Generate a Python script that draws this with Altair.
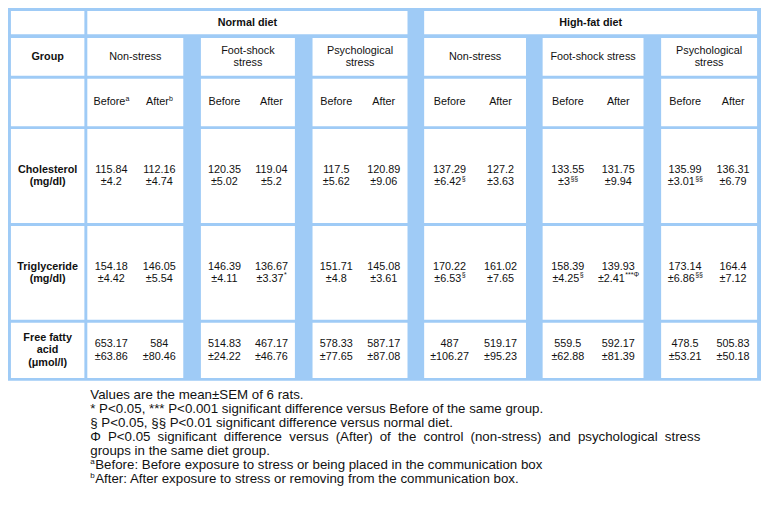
import altair as alt
import pandas as pd

# ---------------- data ----------------
diets = ["Normal diet", "High-fat diet"]
group_labels = ["Non-stress", "Foot-shock\nstress", "Psychological\nstress",
                "Non-stress", "Foot-shock stress", "Psychological\nstress"]
phases = ["Before", "After"]
phase_marks = [["a", "b"], ["", ""], ["", ""], ["", ""], ["", ""], ["", ""]]
measures = ["Cholesterol\n(mg/dl)", "Triglyceride\n(mg/dl)", "Free fatty\nacid\n(μmol/l)"]

chol_mean = [115.84, 112.16, 120.35, 119.04, 117.5, 120.89, 137.29, 127.2, 133.55, 131.75, 135.99, 136.31]
chol_sem = [4.2, 4.74, 5.02, 5.2, 5.62, 9.06, 6.42, 3.63, 3, 9.94, 3.01, 6.79]
chol_sig = ["", "", "", "", "", "", "§", "", "§§", "", "§§", ""]

tg_mean = [154.18, 146.05, 146.39, 136.67, 151.71, 145.08, 170.22, 161.02, 158.39, 139.93, 173.14, 164.4]
tg_sem = [4.42, 5.54, 4.11, 3.37, 4.8, 3.61, 6.53, 7.65, 4.25, 2.41, 6.86, 7.12]
tg_sig = ["", "", "", "*", "", "", "§", "", "§", "***Φ", "§§", ""]

ffa_mean = [653.17, 584, 514.83, 467.17, 578.33, 587.17, 487, 519.17, 559.5, 592.17, 478.5, 505.83]
ffa_sem = [63.86, 80.46, 24.22, 46.76, 77.65, 87.08, 106.27, 95.23, 62.88, 81.39, 53.21, 50.18]
ffa_sig = [""] * 12

footnotes = [
    ("", "Values are the mean±SEM of 6 rats."),
    ("", "* P<0.05, *** P<0.001 significant difference versus Before of the same group."),
    ("", "§ P<0.05, §§ P<0.01 significant difference versus normal diet."),
    ("J", "Φ P<0.05 significant difference versus (After) of the control (non-stress) and psychological stress"),
    ("", "groups in the same diet group."),
    ("a", "Before: Before exposure to stress or being placed in the communication box"),
    ("b", "After: After exposure to stress or removing from the communication box."),
]

# ---------------- layout (reference pixel grid) ----------------
W, H = 753, 490
SX, SY = W / 769, H / 506
BLUE = "#9fcbf6"
INK = "#111111"
FONT = "Liberation Sans"
FS = 10.8      # table font
FSUP = 7.0     # table superscript
FN = 13.3      # footnote font
FNSUP = 8.0

TABLE = (0, 0, 769, 385)
LABEL_COL = (3, 78)
DIET_COLS = [(81, 408), (425, 765)]
GROUP_COLS = [(81, 179), (197, 293), (311, 408), (425, 529), (546, 649), (667, 765)]
ROWS = [(3, 27), (31, 70), (73, 122), (125, 222), (225, 322), (325, 382)]
LINE = 13
FOOT_X0, FOOT_X1 = 84, 707
FOOT_Y0, FOOT_DY = 400, 14.4

# Arial / Liberation Sans advance widths (per 1000 em)
_W = {' ': 278, '!': 278, '"': 355, '#': 556, '$': 556, '%': 889, '&': 667, "'": 191,
      '(': 333, ')': 333, '*': 389, '+': 584, ',': 278, '-': 333, '.': 278, '/': 278,
      ':': 278, ';': 278, '<': 584, '=': 584, '>': 584, '?': 556, '@': 1015,
      'A': 667, 'B': 667, 'C': 722, 'D': 722, 'E': 667, 'F': 611, 'G': 778, 'H': 722,
      'I': 278, 'J': 500, 'K': 667, 'L': 556, 'M': 833, 'N': 722, 'O': 778, 'P': 667,
      'Q': 778, 'R': 722, 'S': 667, 'T': 611, 'U': 722, 'V': 667, 'W': 944, 'X': 667,
      'Y': 667, 'Z': 611, 'a': 556, 'b': 556, 'c': 500, 'd': 556, 'e': 556, 'f': 278,
      'g': 556, 'h': 556, 'i': 222, 'j': 222, 'k': 500, 'l': 222, 'm': 833, 'n': 556,
      'o': 556, 'p': 556, 'q': 556, 'r': 333, 's': 500, 't': 278, 'u': 556, 'v': 500,
      'w': 722, 'x': 500, 'y': 500, 'z': 500, '§': 556, '±': 584, 'Φ': 798, 'μ': 576}


def tw(s, size):
    return sum(_W.get(c, 556) for c in s) * size / 1000.0


def fmt(v):
    return f"{v:g}"


def px(x):
    return x * SX


def py(y):
    return y * SY


rects = []


def add_rect(x0, x1, y0, y1, fill):
    rects.append({"x0": px(x0), "x1": px(x1), "y0": py(y0), "y1": py(y1), "fill": fill})


add_rect(TABLE[0], TABLE[2], TABLE[1], TABLE[3], BLUE)
for (r0, r1) in ROWS:
    add_rect(LABEL_COL[0], LABEL_COL[1], r0, r1, "white")
for (c0, c1) in DIET_COLS:
    add_rect(c0, c1, ROWS[0][0], ROWS[0][1], "white")
for (r0, r1) in ROWS[1:]:
    for (c0, c1) in GROUP_COLS:
        add_rect(c0, c1, r0, r1, "white")

bold_c, norm_c, sup_l, foot_l = [], [], [], []


def multiline(target, text, cx, cy, size):
    lines = text.split("\n")
    n = len(lines)
    for i, ln in enumerate(lines):
        target.append({"x": px(cx), "y": py(cy + (i - (n - 1) / 2) * LINE), "t": ln, "s": size})


def with_sup(main, sup, cx, cy, size, supsize):
    wm, ws = tw(main, size), tw(sup, supsize)
    cxp = px(cx)
    norm_c.append({"x": cxp - ws / 2, "y": py(cy), "t": main, "s": size})
    if sup:
        sup_l.append({"x": cxp - (wm + ws) / 2 + wm + 0.3, "y": py(cy) - 3.8, "t": sup, "s": supsize})


def mid(a):
    return (a[0] + a[1]) / 2


# header row 1
for d, (c0, c1) in zip(diets, DIET_COLS):
    multiline(bold_c, d, (c0 + c1) / 2, mid(ROWS[0]), FS)
# row 2
multiline(bold_c, "Group", mid(LABEL_COL), mid(ROWS[1]), FS)
for g, (c0, c1) in zip(group_labels, GROUP_COLS):
    multiline(norm_c, g, (c0 + c1) / 2, mid(ROWS[1]), FS)
# row 3 before/after
for gi, (c0, c1) in enumerate(GROUP_COLS):
    for p in range(2):
        cx = c0 + (c1 - c0) * (0.25 + 0.5 * p)
        with_sup(phases[p], phase_marks[gi][p], cx, mid(ROWS[2]), FS, FSUP)

# value rows
series = [(chol_mean, chol_sem, chol_sig), (tg_mean, tg_sem, tg_sig), (ffa_mean, ffa_sem, ffa_sig)]
for mi, (means, sems, sigs) in enumerate(series):
    row = ROWS[3 + mi]
    cy = mid(row)
    multiline(bold_c, measures[mi], mid(LABEL_COL), cy, FS)
    for k in range(12):
        c0, c1 = GROUP_COLS[k // 2]
        cx = c0 + (c1 - c0) * (0.25 + 0.5 * (k % 2))
        norm_c.append({"x": px(cx), "y": py(cy - LINE / 2), "t": fmt(means[k]), "s": FS})
        with_sup("±" + fmt(sems[k]), sigs[k], cx, cy + LINE / 2, FS, FSUP)

# footnotes
for i, (kind, txt) in enumerate(footnotes):
    y = py(FOOT_Y0 + i * FOOT_DY)
    x0 = px(FOOT_X0)
    if kind == "J":
        words = txt.split(" ")
        widths = [tw(w, FN) for w in words]
        gap = (px(FOOT_X1) - x0 - sum(widths)) / (len(words) - 1)
        x = x0
        for w, ww in zip(words, widths):
            foot_l.append({"x": x, "y": y, "t": w, "s": FN})
            x += ww + gap
    elif kind in ("a", "b"):
        foot_l.append({"x": x0, "y": y - 3.2, "t": kind, "s": FNSUP})
        foot_l.append({"x": x0 + tw(kind, FNSUP) + 0.5, "y": y, "t": txt, "s": FN})
    else:
        foot_l.append({"x": x0, "y": y, "t": txt, "s": FN})

xs = alt.Scale(domain=[0, W], nice=False, zero=False)
ys = alt.Scale(domain=[0, H], reverse=True, nice=False, zero=False)

rect_layer = alt.Chart(pd.DataFrame(rects)).mark_rect(strokeWidth=0).encode(
    x=alt.X("x0:Q", scale=xs, axis=None), x2="x1:Q",
    y=alt.Y("y0:Q", scale=ys, axis=None), y2="y1:Q",
    color=alt.Color("fill:N", scale=None),
)


def text_layer(recs, align, weight):
    return alt.Chart(pd.DataFrame(recs)).mark_text(
        align=align, baseline="middle", font=FONT, fontWeight=weight, color=INK
    ).encode(
        x=alt.X("x:Q", scale=xs, axis=None),
        y=alt.Y("y:Q", scale=ys, axis=None),
        text="t:N",
        size=alt.Size("s:Q", scale=None),
    )


chart = alt.layer(
    rect_layer,
    text_layer(bold_c, "center", "bold"),
    text_layer(norm_c, "center", "normal"),
    text_layer(sup_l, "left", "normal"),
    text_layer(foot_l, "left", "normal"),
).properties(
    width=W, height=H, padding=0, background="white",
    autosize=alt.AutoSizeParams(type="none"),
).configure_view(stroke=None)

chart.save("out.html", embed_options={"renderer": "svg", "actions": False})
